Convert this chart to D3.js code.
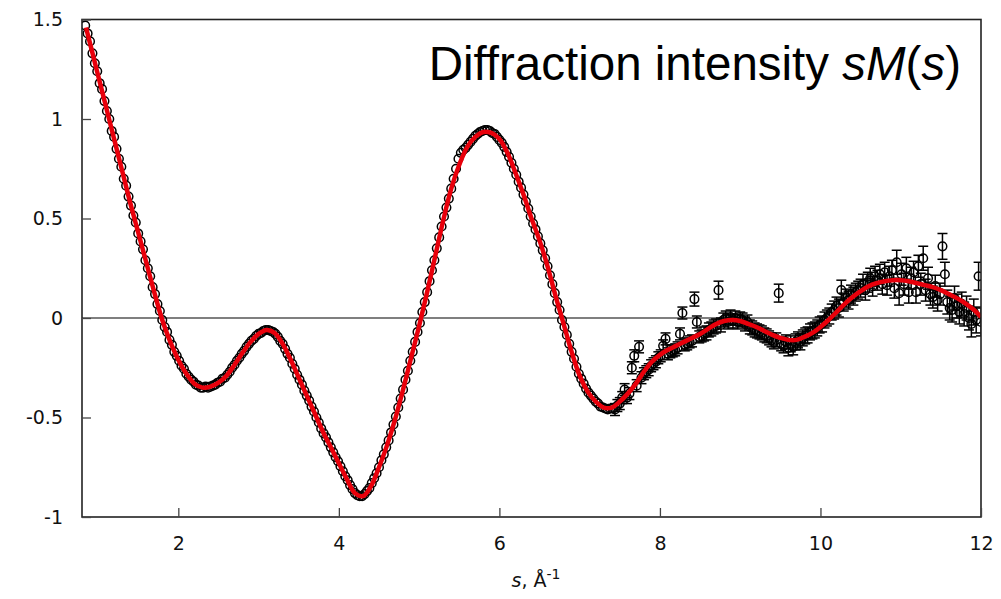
<!DOCTYPE html>
<html>
<head>
<meta charset="utf-8">
<script src="https://cdn.jsdelivr.net/npm/d3@7"></script>
<style>
  html, body { margin: 0; padding: 0; background: #fff; }
  svg { display: block; }
</style>
</head>
<body>
<svg id="chart" width="1001" height="599"></svg>
<script>
// ---------- DATA ----------
const xTicks = [2, 4, 6, 8, 10, 12];
const yTicks = [-1, -0.5, 0, 0.5, 1, 1.5];
const xDomain = [0.8, 12];
const yDomain = [-1, 1.5];
const titleMain = "Diffraction intensity ";

// fitted curve sM(s)  [s, value]
const fitCurve = [
[0.85,1.46],[0.9,1.38],[1.0,1.22],[1.1,1.06],[1.2,0.90],[1.3,0.74],[1.4,0.58],[1.5,0.43],[1.6,0.28],[1.7,0.13],
[1.8,-0.01],[1.9,-0.12],[2.0,-0.21],[2.1,-0.28],[2.2,-0.33],[2.3,-0.35],[2.4,-0.345],[2.5,-0.325],[2.6,-0.29],[2.7,-0.235],
[2.8,-0.175],[2.9,-0.12],[3.0,-0.08],[3.1,-0.06],[3.2,-0.075],[3.3,-0.13],[3.4,-0.21],[3.5,-0.30],[3.6,-0.39],[3.7,-0.48],
[3.8,-0.57],[3.9,-0.65],[4.0,-0.73],[4.1,-0.81],[4.2,-0.88],[4.3,-0.895],[4.4,-0.845],[4.5,-0.75],[4.6,-0.64],[4.7,-0.51],
[4.8,-0.36],[4.9,-0.20],[5.0,-0.04],[5.1,0.13],[5.2,0.31],[5.3,0.49],[5.4,0.65],[5.5,0.77],[5.6,0.86],[5.7,0.91],
[5.8,0.935],[5.9,0.93],[6.0,0.90],[6.1,0.83],[6.2,0.73],[6.3,0.62],[6.4,0.50],[6.5,0.39],[6.6,0.26],[6.7,0.11],
[6.8,-0.03],[6.9,-0.17],[7.0,-0.29],[7.1,-0.37],[7.2,-0.42],[7.3,-0.45],[7.4,-0.45],[7.5,-0.42],[7.6,-0.38],[7.7,-0.33],
[7.8,-0.27],[7.9,-0.22],[8.0,-0.185],[8.1,-0.16],[8.2,-0.14],[8.3,-0.12],[8.4,-0.10],[8.5,-0.08],[8.6,-0.055],[8.7,-0.03],
[8.8,-0.015],[8.9,-0.01],[9.0,-0.015],[9.1,-0.03],[9.2,-0.045],[9.3,-0.065],[9.4,-0.085],[9.5,-0.10],[9.6,-0.11],[9.7,-0.11],
[9.8,-0.095],[9.9,-0.075],[10.0,-0.045],[10.1,-0.01],[10.2,0.03],[10.3,0.07],[10.4,0.105],[10.5,0.135],[10.6,0.16],[10.7,0.175],
[10.8,0.185],[10.9,0.19],[11.0,0.19],[11.1,0.185],[11.2,0.175],[11.3,0.165],[11.4,0.155],[11.5,0.14],[11.6,0.12],[11.7,0.10],
[11.8,0.075],[11.9,0.045],[12.0,0.005]
];

// experimental points, low-s part (tiny errors)  [s, value]
const obsLow = [
[0.84,1.47],[0.87,1.43],[0.90,1.39],[0.93,1.33],[0.96,1.28],[0.99,1.24],[1.02,1.18],[1.05,1.15],[1.08,1.09],[1.11,1.04],
[1.14,1.00],[1.17,0.94],[1.20,0.91],[1.23,0.85],[1.26,0.80],[1.29,0.76],[1.32,0.70],[1.35,0.665],[1.38,0.61],[1.41,0.565],
[1.44,0.515],[1.47,0.48],[1.50,0.425],[1.53,0.385],[1.56,0.345],[1.59,0.29],[1.62,0.25],[1.65,0.21],[1.68,0.155],[1.71,0.12],
[1.74,0.07],[1.77,0.035],[1.80,-0.01],[1.83,-0.045],[1.86,-0.07],[1.89,-0.11],[1.92,-0.135],[1.95,-0.17],[1.98,-0.19],[2.01,-0.215],
[2.04,-0.24],[2.07,-0.255],[2.10,-0.28],[2.13,-0.295],[2.16,-0.31],[2.19,-0.32],[2.22,-0.335],[2.25,-0.34],[2.28,-0.35],[2.31,-0.35],
[2.34,-0.345],[2.37,-0.35],[2.40,-0.345],[2.43,-0.34],[2.46,-0.335],[2.49,-0.325],[2.52,-0.32],[2.55,-0.305],[2.58,-0.30],[2.61,-0.285],
[2.64,-0.27],[2.67,-0.25],[2.70,-0.235],[2.73,-0.215],[2.76,-0.20],[2.79,-0.18],[2.82,-0.165],[2.85,-0.145],[2.88,-0.13],[2.91,-0.115],
[2.94,-0.105],[2.97,-0.09],[3.00,-0.08],[3.03,-0.075],[3.06,-0.065],[3.09,-0.06],[3.12,-0.06],[3.15,-0.065],[3.18,-0.07],[3.21,-0.08],
[3.24,-0.095],[3.27,-0.115],[3.30,-0.13],[3.33,-0.155],[3.36,-0.18],[3.39,-0.20],[3.42,-0.23],[3.45,-0.255],[3.48,-0.285],[3.51,-0.31],
[3.54,-0.335],[3.57,-0.365],[3.60,-0.39],[3.63,-0.415],[3.66,-0.445],[3.69,-0.47],[3.72,-0.50],[3.75,-0.525],[3.78,-0.555],[3.81,-0.58],
[3.84,-0.60],[3.87,-0.625],[3.90,-0.65],[3.93,-0.675],[3.96,-0.70],[3.99,-0.72],[4.02,-0.745],[4.05,-0.77],[4.08,-0.795],[4.11,-0.815],
[4.14,-0.84],[4.17,-0.86],[4.20,-0.88],[4.23,-0.89],[4.26,-0.895],[4.29,-0.895],[4.32,-0.885],[4.35,-0.87],[4.38,-0.855],[4.41,-0.83],
[4.44,-0.805],[4.47,-0.78],[4.50,-0.75],[4.53,-0.715],[4.56,-0.685],[4.59,-0.65],[4.62,-0.615],[4.65,-0.575],[4.68,-0.535],[4.71,-0.495],
[4.74,-0.45],[4.77,-0.405],[4.80,-0.36],[4.83,-0.31],[4.86,-0.265],[4.89,-0.215],[4.92,-0.17],[4.95,-0.12],[4.98,-0.07],[5.01,-0.025],
[5.04,0.03],[5.07,0.08],[5.10,0.13],[5.13,0.185],[5.16,0.24],[5.19,0.29],[5.22,0.35],[5.25,0.405],[5.28,0.46],[5.31,0.51],
[5.34,0.555],[5.37,0.60],[5.40,0.65],[5.43,0.70],[5.46,0.75],[5.49,0.80],[5.52,0.83],[5.55,0.845],[5.58,0.855],[5.61,0.87],
[5.64,0.885],[5.67,0.90],[5.70,0.915],[5.73,0.925],[5.76,0.935],[5.79,0.94],[5.82,0.945],[5.85,0.945],[5.88,0.94],[5.91,0.93],
[5.94,0.925],[5.97,0.91],[6.00,0.895],[6.03,0.88],[6.06,0.86],[6.09,0.835],[6.12,0.81],[6.15,0.78],[6.18,0.75],[6.21,0.72],
[6.24,0.685],[6.27,0.655],[6.30,0.62],[6.33,0.585],[6.36,0.55],[6.39,0.51],[6.42,0.475],[6.45,0.445],[6.48,0.41],[6.51,0.375],
[6.54,0.34],[6.57,0.30],[6.60,0.26],[6.63,0.215],[6.66,0.17],[6.69,0.125],[6.72,0.08],[6.75,0.04],[6.78,-0.01],[6.81,-0.045],
[6.84,-0.085],[6.87,-0.13],[6.90,-0.17],[6.93,-0.205],[6.96,-0.245],[6.99,-0.28],[7.02,-0.305],[7.05,-0.33],[7.08,-0.355],[7.11,-0.375],
[7.14,-0.39],[7.17,-0.405],[7.20,-0.42],[7.23,-0.43],[7.26,-0.445],[7.29,-0.45],[7.32,-0.455],[7.35,-0.46],[7.38,-0.455],[7.41,-0.455]
];
const obsLowErr = 0.008;

// experimental points, high-s part  [s, value, error]
const obsHigh = [
[7.44,-0.46,0.03],[7.47,-0.44,0.03],[7.50,-0.43,0.03],[7.53,-0.40,0.03],[7.56,-0.36,0.03],[7.59,-0.40,0.03],[7.62,-0.38,0.03],[7.65,-0.25,0.03],[7.68,-0.19,0.03],[7.71,-0.34,0.03],
[7.74,-0.145,0.03],[7.77,-0.30,0.03],[7.80,-0.28,0.03],[7.83,-0.27,0.03],[7.86,-0.26,0.03],[7.89,-0.24,0.03],[7.92,-0.23,0.03],[7.95,-0.22,0.03],[7.98,-0.20,0.03],[8.01,-0.19,0.03],
[8.04,-0.14,0.03],[8.07,-0.105,0.03],[8.10,-0.18,0.03],[8.13,-0.17,0.03],[8.16,-0.165,0.03],[8.19,-0.16,0.03],[8.22,-0.15,0.03],[8.25,-0.08,0.03],[8.28,0.025,0.03],[8.31,-0.135,0.03],
[8.34,-0.13,0.03],[8.37,-0.12,0.03],[8.40,-0.115,0.03],[8.43,0.095,0.035],[8.46,-0.02,0.03],[8.49,-0.095,0.03],[8.52,-0.09,0.03],[8.55,-0.08,0.035],[8.58,-0.075,0.035],[8.61,-0.06,0.035],
[8.64,-0.055,0.035],[8.67,-0.045,0.035],[8.70,-0.04,0.035],[8.73,0.14,0.045],[8.76,-0.035,0.035],[8.79,-0.01,0.035],[8.82,0.0,0.035],[8.85,-0.02,0.035],[8.88,0.005,0.035],[8.91,-0.015,0.035],
[8.94,0.0,0.035],[8.97,-0.02,0.035],[9.00,-0.005,0.035],[9.03,-0.01,0.035],[9.06,-0.03,0.035],[9.09,-0.02,0.035],[9.12,-0.045,0.035],[9.15,-0.05,0.035],[9.18,-0.06,0.035],[9.21,-0.065,0.035],
[9.24,-0.07,0.035],[9.27,-0.075,0.035],[9.30,-0.085,0.035],[9.33,-0.09,0.035],[9.36,-0.10,0.035],[9.39,-0.11,0.035],[9.42,-0.12,0.035],[9.45,-0.11,0.035],[9.48,0.125,0.045],[9.51,-0.13,0.035],
[9.54,-0.14,0.035],[9.57,-0.12,0.035],[9.60,-0.15,0.04],[9.63,-0.13,0.04],[9.66,-0.145,0.04],[9.69,-0.12,0.04],[9.72,-0.11,0.04],[9.75,-0.12,0.04],[9.78,-0.10,0.04],[9.81,-0.09,0.04],
[9.84,-0.085,0.04],[9.87,-0.07,0.04],[9.90,-0.065,0.04],[9.93,-0.06,0.04],[9.96,-0.05,0.04],[9.99,-0.035,0.04],[10.02,-0.03,0.04],[10.05,-0.01,0.04],[10.08,0.0,0.04],[10.11,0.01,0.04],
[10.14,0.03,0.04],[10.17,0.04,0.045],[10.20,0.06,0.045],[10.23,0.05,0.045],[10.26,0.14,0.05],[10.29,0.08,0.045],[10.32,0.10,0.045],[10.35,0.09,0.045],[10.38,0.12,0.045],[10.41,0.11,0.045],
[10.44,0.13,0.045],[10.47,0.14,0.045],[10.50,0.15,0.045],[10.53,0.17,0.05],[10.56,0.14,0.05],[10.59,0.18,0.05],[10.62,0.20,0.05],[10.65,0.16,0.05],[10.68,0.21,0.05],[10.71,0.19,0.05],
[10.74,0.22,0.05],[10.77,0.17,0.05],[10.80,0.23,0.05],[10.83,0.165,0.05],[10.86,0.21,0.05],[10.89,0.24,0.05],[10.92,0.15,0.05],[10.95,0.28,0.06],[10.98,0.125,0.06],[11.01,0.22,0.055],
[11.04,0.17,0.055],[11.07,0.25,0.055],[11.10,0.13,0.055],[11.13,0.20,0.055],[11.16,0.23,0.055],[11.19,0.13,0.055],[11.22,0.26,0.055],[11.25,0.17,0.055],[11.28,0.30,0.06],[11.31,0.14,0.055],
[11.34,0.20,0.055],[11.37,0.12,0.055],[11.40,0.105,0.055],[11.43,0.16,0.055],[11.46,0.09,0.055],[11.49,0.12,0.055],[11.52,0.36,0.065],[11.55,0.22,0.06],[11.58,0.08,0.06],[11.61,0.05,0.06],
[11.64,0.04,0.06],[11.67,0.10,0.06],[11.70,0.06,0.06],[11.73,0.03,0.06],[11.76,0.07,0.06],[11.79,0.02,0.06],[11.82,0.05,0.06],[11.85,0.0,0.06],[11.88,-0.03,0.065],[11.91,0.03,0.065],
[11.94,-0.01,0.065],[11.97,0.21,0.07],[12.00,-0.02,0.07]
];

// ---------- LAYOUT ----------
const W = 1001, H = 599;
const m = { left: 82, right: 20, top: 19.5, bottom: 82 };
const svg = d3.select("#chart");
const x = d3.scaleLinear().domain(xDomain).range([m.left, W - m.right]);
const y = d3.scaleLinear().domain(yDomain).range([H - m.bottom, m.top]);

svg.append("defs").append("clipPath").attr("id", "plotclip")
  .append("rect").attr("x", m.left).attr("y", m.top)
  .attr("width", W - m.right - m.left).attr("height", H - m.bottom - m.top);

const plot = svg.append("g").attr("clip-path", "url(#plotclip)");

// zero line
plot.append("line")
  .attr("x1", x(xDomain[0])).attr("x2", x(xDomain[1]))
  .attr("y1", y(0)).attr("y2", y(0))
  .attr("stroke", "#000").attr("stroke-width", 1.2);

// points with error bars
const allObs = obsLow.map(d => [d[0], d[1], obsLowErr]).concat(obsHigh);
const capW = 5;
const pts = plot.append("g").attr("fill", "none").attr("stroke", "#000").attr("stroke-width", 1.5);
allObs.forEach(d => {
  const cx = x(d[0]), cy = y(d[1]), y1 = y(d[1] + d[2]), y2 = y(d[1] - d[2]);
  if (d[2] > 0.02) {
    pts.append("line").attr("x1", cx).attr("x2", cx).attr("y1", y1).attr("y2", y2);
    pts.append("line").attr("x1", cx - capW).attr("x2", cx + capW).attr("y1", y1).attr("y2", y1);
    pts.append("line").attr("x1", cx - capW).attr("x2", cx + capW).attr("y1", y2).attr("y2", y2);
  }
  pts.append("circle").attr("cx", cx).attr("cy", cy).attr("r", 4.3);
});

// fitted curve
plot.append("path")
  .datum(fitCurve)
  .attr("fill", "none")
  .attr("stroke", "#e8000b")
  .attr("stroke-width", 4.5)
  .attr("stroke-linejoin", "round")
  .attr("d", d3.line().x(d => x(d[0])).y(d => y(d[1])).curve(d3.curveCatmullRom.alpha(0.5)));

// frame
svg.append("rect")
  .attr("x", m.left).attr("y", m.top)
  .attr("width", W - m.right - m.left).attr("height", H - m.bottom - m.top)
  .attr("fill", "none").attr("stroke", "#222").attr("stroke-width", 1.6);

// axes
const fmt = d => String(d);
const xAxis = svg.append("g").attr("transform", `translate(0,${H - m.bottom})`)
  .call(d3.axisBottom(x).tickValues(xTicks).tickFormat(fmt).tickSizeInner(-9).tickSizeOuter(0).tickPadding(20));
const yAxis = svg.append("g").attr("transform", `translate(${m.left},0)`)
  .call(d3.axisLeft(y).tickValues(yTicks).tickFormat(fmt).tickSizeInner(-9).tickSizeOuter(0).tickPadding(19));
[xAxis, yAxis].forEach(g => {
  g.select(".domain").remove();
  g.selectAll(".tick line").attr("stroke", "#444").attr("stroke-width", 1.3);
  g.selectAll(".tick text").attr("fill", "#111")
    .style("font-family", "'DejaVu Sans', sans-serif").style("font-size", "19px");
});

// title
const title = svg.append("text")
  .attr("x", 961).attr("y", 80)
  .attr("text-anchor", "end")
  .style("font-family", "'Liberation Sans', Arial, sans-serif")
  .style("font-size", "47.5px")
  .attr("fill", "#000");
title.append("tspan").text(titleMain);
title.append("tspan").style("font-style", "italic").text("sM");
title.append("tspan").text("(");
title.append("tspan").style("font-style", "italic").text("s");
title.append("tspan").text(")");

// x axis label
const xl = svg.append("text")
  .attr("x", 536).attr("y", 587)
  .attr("text-anchor", "middle")
  .style("font-family", "'DejaVu Sans', sans-serif")
  .style("font-size", "19px")
  .attr("fill", "#111");
xl.append("tspan").style("font-style", "italic").text("s");
xl.append("tspan").text(", Å");
xl.append("tspan").attr("dy", -8).style("font-size", "14px").text("-1");
</script>
</body>
</html>
